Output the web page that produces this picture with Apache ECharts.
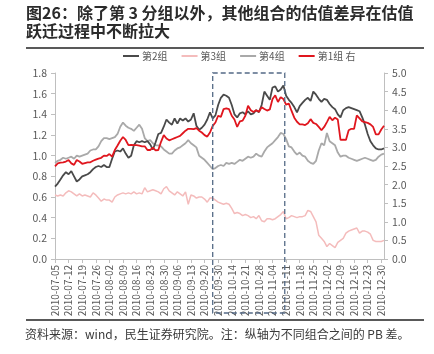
<!DOCTYPE html>
<html>
<head>
<meta charset="utf-8">
<script src="https://cdn.jsdelivr.net/npm/echarts@6/dist/echarts.min.js"></script>
<style>
html, body { margin: 0; padding: 0; background: #fff; }
#chart { width: 434px; height: 354px; }
</style>
</head>
<body>
<div id="chart"></div>
<script>
// trading days 2010-07-05 .. 2010-12-31 (weekends and holidays skipped)
var startDay = '2010-07-05';
var endDay = '2010-12-31';
var holidays = ['2010-09-22', '2010-09-23', '2010-09-24', '2010-10-01', '2010-10-04', '2010-10-05', '2010-10-06', '2010-10-07'];

function tradingDays(a, b) {
    var out = [];
    var d = new Date(a + 'T00:00:00Z');
    var e = new Date(b + 'T00:00:00Z');
    while (d <= e) {
        var s = d.toISOString().slice(0, 10);
        var wd = d.getUTCDay();
        if (wd !== 0 && wd !== 6 && holidays.indexOf(s) < 0) out.push(s);
        d.setUTCDate(d.getUTCDate() + 1);
    }
    return out;
}
var dates = tradingDays(startDay, endDay);

// 第2组 (left axis)
var group2 = [0.70, 0.73, 0.77, 0.81, 0.84, 0.82, 0.85, 0.80, 0.75, 0.77,
    0.80, 0.81, 0.82, 0.84, 0.87, 0.89, 0.90, 0.89, 0.91, 0.89,
    0.89, 0.97, 1.04, 1.05, 1.04, 1.07, 1.02, 0.98, 1.00, 1.10,
    1.14, 1.13, 1.14, 1.13, 1.14, 1.11, 1.06, 1.13, 1.21, 1.22,
    1.28, 1.35, 1.32, 1.30, 1.36, 1.31, 1.36, 1.34, 1.36, 1.33,
    1.35, 1.41, 1.29, 1.25, 1.27, 1.30, 1.35, 1.42, 1.36, 1.39,
    1.49, 1.56, 1.59, 1.58, 1.56, 1.49, 1.40, 1.37, 1.41, 1.42,
    1.40, 1.43, 1.40, 1.41, 1.44, 1.42, 1.49, 1.62, 1.58, 1.54,
    1.66, 1.67, 1.62, 1.64, 1.68, 1.58, 1.54, 1.51, 1.47, 1.42,
    1.48, 1.51, 1.54, 1.56, 1.53, 1.62, 1.59, 1.55, 1.52, 1.55,
    1.54, 1.50, 1.47, 1.45, 1.40, 1.37, 1.44, 1.46, 1.47, 1.46,
    1.45, 1.44, 1.43, 1.37, 1.30, 1.21, 1.14, 1.10, 1.07, 1.06,
    1.06, 1.07];

// 第3组 (left axis)
var group3 = [0.62, 0.61, 0.62, 0.61, 0.64, 0.66, 0.65, 0.63, 0.61, 0.63,
    0.61, 0.62, 0.61, 0.60, 0.64, 0.62, 0.59, 0.56, 0.58, 0.57,
    0.57, 0.55, 0.60, 0.62, 0.63, 0.64, 0.63, 0.64, 0.63, 0.65,
    0.63, 0.64, 0.63, 0.69, 0.65, 0.66, 0.67, 0.66, 0.65, 0.63,
    0.68, 0.70, 0.66, 0.64, 0.62, 0.65, 0.63, 0.61, 0.65, 0.53,
    0.62, 0.61, 0.59, 0.60, 0.60, 0.58, 0.55, 0.59, 0.59, 0.57,
    0.55, 0.54, 0.53, 0.54, 0.53, 0.49, 0.44, 0.45, 0.44, 0.42,
    0.43, 0.42, 0.40, 0.41, 0.39, 0.42, 0.37, 0.36, 0.39, 0.39,
    0.38, 0.39, 0.41, 0.43, 0.46, 0.39, 0.40, 0.42, 0.41, 0.40,
    0.41, 0.41, 0.42, 0.47, 0.46, 0.41, 0.36, 0.23, 0.20, 0.17,
    0.12, 0.15, 0.13, 0.11, 0.16, 0.18, 0.20, 0.25, 0.27, 0.28,
    0.29, 0.30, 0.25, 0.27, 0.27, 0.26, 0.24, 0.18, 0.17, 0.17,
    0.17, 0.18];

// 第4组 (left axis)
var group4 = [0.93, 0.95, 0.96, 0.98, 0.97, 0.98, 0.99, 0.97, 1.00, 0.99,
    1.00, 1.01, 1.02, 1.05, 1.06, 1.06, 1.09, 1.14, 1.17, 1.17,
    1.16, 1.17, 1.18, 1.21, 1.28, 1.32, 1.29, 1.27, 1.26, 1.24,
    1.27, 1.30, 1.26, 1.17, 1.14, 1.15, 1.12, 1.10, 1.10, 1.09,
    1.06, 1.04, 1.02, 1.02, 1.05, 1.07, 1.08, 1.10, 1.12, 1.15,
    1.12, 1.10, 1.08, 1.00, 0.98, 0.96, 0.93, 0.90, 0.87, 0.88,
    0.90, 0.91, 0.90, 0.93, 0.92, 0.93, 0.92, 0.94, 0.96, 0.95,
    0.97, 0.99, 0.98, 0.99, 1.02, 1.00, 0.99, 1.04, 1.08, 1.10,
    1.12, 1.15, 1.18, 1.22, 1.21, 1.16, 1.09, 1.08, 1.04, 1.01,
    1.03, 1.00, 0.99, 0.95, 0.93, 0.92, 0.95, 1.05, 1.12, 1.10,
    1.22, 1.14, 1.12, 1.10, 1.03, 0.99, 1.00, 1.00, 0.98, 0.97,
    0.96, 0.95, 0.96, 0.97, 0.98, 0.97, 0.96, 0.95, 0.96, 0.99,
    1.01, 1.02];

// 第1组 (right axis)
var group1 = [2.49, 2.57, 2.59, 2.60, 2.62, 2.66, 2.57, 2.53, 2.66, 2.62,
    2.56, 2.58, 2.60, 2.60, 2.64, 2.67, 2.70, 2.72, 2.78, 2.77,
    2.82, 2.75, 2.93, 3.05, 3.18, 3.28, 3.20, 3.06, 3.07, 3.06,
    3.06, 3.05, 3.03, 3.03, 2.93, 2.93, 2.99, 2.92, 2.93, 3.15,
    3.33, 3.24, 3.19, 3.22, 3.25, 3.28, 3.31, 3.38, 3.45, 3.50,
    3.50, 3.49, 3.52, 3.45, 3.40, 3.33, 3.29, 3.40, 3.58, 3.67,
    3.85, 3.82, 4.03, 4.05, 4.03, 3.85, 3.75, 3.55, 3.70, 3.72,
    3.85, 4.12, 4.00, 3.95, 4.00, 3.96, 4.08, 4.03, 3.99, 4.02,
    4.30, 4.40, 4.22, 4.35, 4.30, 4.15, 4.18, 3.98, 3.80, 3.69,
    3.62, 3.62, 3.60, 3.65, 3.76, 3.66, 3.63, 3.55, 3.46, 3.55,
    3.68, 3.82, 3.73, 3.80, 3.75, 3.20, 3.21, 3.20, 3.46, 3.50,
    3.50, 3.86, 3.78, 3.70, 3.68, 3.66, 3.62, 3.55, 3.35, 3.35,
    3.48, 3.58];

// highlighted window (category indices)
var boxFrom = 58;
var boxTo = 84.5;

var cjk = '"Noto Sans CJK SC", "Noto Sans", sans-serif';
var axisGray = '#bfbfbf';
var labelGray = '#595959';

var chart = echarts.init(document.getElementById('chart'));

var option = {
    backgroundColor: '#fff',
    animation: false,
    title: {
        text: '图26：除了第 3 分组以外，其他组合的估值差异在估值\n跃迁过程中不断拉大',
        left: 26,
        top: 4,
        padding: 0,
        textStyle: { fontFamily: cjk, fontSize: 16, fontWeight: 'bold', color: '#2b2b2b', lineHeight: 18 }
    },
    legend: {
        left: 118,
        top: 46,
        itemWidth: 16,
        itemHeight: 2,
        itemGap: 14,
        icon: 'rect',
        textStyle: { fontFamily: cjk, fontSize: 10, color: labelGray, padding: [0, 0, 0, -2] },
        data: ['第2组', '第3组', '第4组', '第1组 右']
    },
    grid: { left: 55, right: 50, top: 73, bottom: 95 },
    xAxis: {
        type: 'category',
        data: dates,
        boundaryGap: false,
        axisLine: { lineStyle: { color: axisGray } },
        axisTick: { interval: 4, length: 4, lineStyle: { color: axisGray } },
        axisLabel: { interval: 4, rotate: 90, fontFamily: cjk, fontSize: 10, color: labelGray, margin: 6 }
    },
    yAxis: [{
        type: 'value',
        min: 0, max: 1.8, interval: 0.2,
        splitLine: { show: false },
        axisLine: { show: true, lineStyle: { color: axisGray } },
        axisTick: { show: true, length: 4, lineStyle: { color: axisGray } },
        axisLabel: { fontFamily: cjk, fontSize: 10.5, color: labelGray, margin: 8,
            formatter: function (v) { return v.toFixed(1); } }
    }, {
        type: 'value',
        min: 0, max: 5, interval: 0.5,
        splitLine: { show: false },
        axisLine: { show: true, lineStyle: { color: axisGray } },
        axisTick: { show: true, length: 4, lineStyle: { color: axisGray } },
        axisLabel: { fontFamily: cjk, fontSize: 10.5, color: labelGray, margin: 8,
            formatter: function (v) { return v.toFixed(1); } }
    }],
    series: [{
        name: '第3组', type: 'line', data: group3, yAxisIndex: 0,
        showSymbol: false, color: '#f4bcbc', lineStyle: { width: 1.5 }
    }, {
        name: '第4组', type: 'line', data: group4, yAxisIndex: 0,
        showSymbol: false, color: '#a9a9a9', lineStyle: { width: 1.8 }
    }, {
        name: '第2组', type: 'line', data: group2, yAxisIndex: 0,
        showSymbol: false, color: '#4a4a4a', lineStyle: { width: 1.8 }
    }, {
        name: '第1组 右', type: 'line', data: group1, yAxisIndex: 1,
        showSymbol: false, color: '#e0161e', lineStyle: { width: 1.8 }
    }],
    graphic: [{
        id: 'topRule', type: 'line', shape: { x1: 26, y1: 48, x2: 424, y2: 48 },
        style: { stroke: '#595959', lineWidth: 2 }
    }, {
        id: 'bottomRule', type: 'line', shape: { x1: 26, y1: 320, x2: 424, y2: 320 },
        style: { stroke: '#595959', lineWidth: 2 }
    }, {
        id: 'source', type: 'text', left: 25, top: 328,
        style: { text: '资料来源：wind，民生证券研究院。注：纵轴为不同组合之间的 PB 差。',
            font: '12px ' + cjk, fill: '#3a3a3a' }
    }]
};

chart.setOption(option);

// dashed box around the jump window
var x1 = chart.convertToPixel({ xAxisIndex: 0 }, boxFrom);
var xa = chart.convertToPixel({ xAxisIndex: 0 }, Math.floor(boxTo));
var xb = chart.convertToPixel({ xAxisIndex: 0 }, Math.ceil(boxTo));
var x2 = xa + (xb - xa) * (boxTo - Math.floor(boxTo));
var yTop = chart.convertToPixel({ yAxisIndex: 0 }, 1.8);
chart.setOption({
    graphic: [{
        id: 'box', type: 'rect', z: 100,
        shape: { x: x1, y: yTop, width: x2 - x1, height: 313 - yTop },
        style: { fill: 'none', stroke: '#546a86', lineWidth: 1.3, lineDash: [5, 3] }
    }]
});
</script>
</body>
</html>
